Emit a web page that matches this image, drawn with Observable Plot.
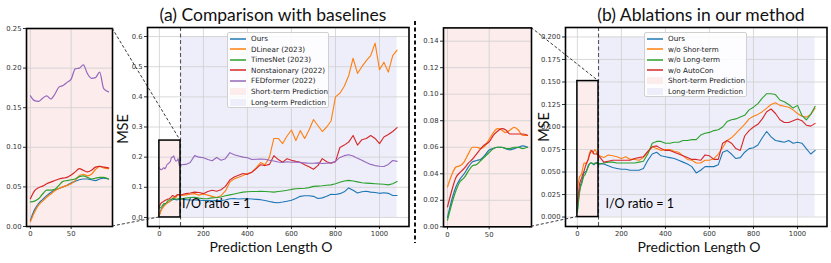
<!DOCTYPE html>
<html><head><meta charset="utf-8">
<script src="https://cdn.jsdelivr.net/npm/d3@7"></script>
<script src="https://cdn.jsdelivr.net/npm/@observablehq/plot@0.6"></script>
<style>
body{margin:0;background:#fff}
#wrap{position:relative;width:831px;height:263px;overflow:hidden;background:#fff}
#wrap svg{position:absolute;left:0;top:0}
</style>
</head><body><div id="wrap"></div>
<script>
// ---------------- DATA ----------------
const xShort = [0,5,10,15,20,25,30,35,40,45,50,55,60,65,70,75,80,85,90,96];
const xLong = [100,120,140,160,180,200,220,240,260,280,300,320,340,360,380,400,420,440,460,480,500,520,540,560,580,600,620,640,660,680,700,720,740,760,780,800,820,840,860,880,900,920,940,960,980,1000,1020,1040,1060,1080];

const namesA = ["Ours","DLinear (2023)","TimesNet (2023)","Nonstaionary (2022)","FEDformer (2022)"];
const namesB = ["Ours","w/o Shor-term","w/o Long-term","w/o AutoCon"];

// (a) short-term values
const aOursShort = [.008,.021,.029,.034,.039,.043,.046,.048,.050,.052,.055,.057,.059,.060,.060,.059,.058,.060,.061,.060];
const aDLinearShort = [.006,.018,.027,.032,.037,.041,.045,.048,.050,.052,.054,.058,.064,.066,.064,.066,.072,.076,.074,.073];
const aTimesNetShort = [.031,.032,.035,.041,.046,.046,.047,.052,.057,.058,.059,.060,.063,.064,.062,.060,.061,.062,.062,.060];
const aNonstatShort = [.035,.045,.049,.051,.054,.056,.058,.060,.061,.062,.065,.069,.073,.071,.069,.071,.075,.076,.075,.074];
const aFEDShort = [.165,.159,.158,.162,.165,.161,.167,.176,.178,.182,.186,.199,.200,.204,.193,.187,.188,.195,.174,.170];

// (a) long-term values
const aOursLong = [.061,.059,.058,.058,.057,.056,.057,.055,.056,.056,
 .058,.062,.063,.061,.062,.062,.061,.060,.059,.056,
 .053,.050,.049,.051,.054,.057,.063,.070,.072,.072,
 .070,.063,.065,.070,.077,.076,.079,.085,.098,.090,
 .081,.085,.087,.084,.083,.080,.082,.080,.073,.073];
const aDLinearLong = [.073,.075,.077,.079,.074,.078,.074,.070,.066,.072,
 .088,.117,.128,.133,.139,.146,.150,.165,.182,.175,
 .200,.262,.262,.245,.270,.290,.255,.288,.262,.290,
 .325,.305,.285,.300,.320,.400,.412,.435,.470,.528,
 .478,.500,.520,.537,.578,.490,.515,.482,.537,.555];
const aTimesNetLong = [.062,.064,.066,.067,.064,.062,.063,.065,.066,.068,
 .072,.075,.078,.081,.084,.085,.086,.086,.087,.086,
 .085,.084,.086,.088,.090,.093,.095,.096,.097,.099,
 .103,.104,.105,.107,.108,.112,.117,.121,.123,.121,
 .118,.115,.114,.113,.112,.111,.110,.108,.112,.119];
const aNonstatLong = [.075,.079,.081,.084,.083,.079,.086,.090,.087,.092,
 .103,.124,.134,.140,.146,.143,.150,.162,.175,.172,
 .176,.205,.192,.183,.195,.190,.186,.183,.175,.168,
 .160,.172,.195,.185,.180,.185,.232,.240,.250,.272,
 .240,.258,.262,.272,.262,.245,.267,.275,.285,.298];
const aFEDLong = [.175,.176,.182,.205,.200,.198,.192,.188,.199,.190,
 .195,.215,.208,.204,.200,.198,.192,.193,.194,.193,
 .190,.187,.184,.182,.185,.183,.184,.182,.181,.180,
 .180,.181,.179,.180,.181,.186,.199,.205,.208,.204,
 .196,.190,.182,.176,.172,.170,.169,.176,.189,.186];

// (b) short-term values
const bOursShort = [.007,.020,.030,.036,.040,.045,.049,.050,.051,.054,.058,.059,.060,.060,.059,.058,.059,.060,.061,.060];
const bShortShort = [.030,.039,.045,.046,.049,.055,.060,.060,.059,.061,.066,.071,.074,.073,.071,.073,.075,.073,.069,.069];
const bLongShort = [.005,.017,.027,.034,.037,.042,.046,.047,.050,.053,.056,.059,.060,.060,.059,.059,.060,.060,.059,.060];
const bAutoShort = [.015,.027,.037,.041,.044,.048,.051,.055,.059,.062,.064,.069,.072,.074,.073,.070,.070,.070,.070,.069];

// (b) long-term values
const bOursLong = [.059,.059,.057,.055,.054,.053,.053,.052,.052,.052,
 .054,.063,.070,.072,.068,.067,.066,.065,.063,.061,
 .059,.056,.049,.052,.056,.056,.056,.058,.072,.074,
 .070,.065,.066,.072,.076,.077,.080,.088,.095,.089,
 .085,.084,.083,.085,.082,.083,.082,.076,.070,.074];
const bShortLong = [.068,.066,.069,.068,.067,.065,.067,.064,.064,.063,
 .066,.072,.078,.076,.074,.075,.075,.073,.072,.068,
 .064,.063,.060,.060,.063,.063,.065,.070,.077,.085,
 .088,.093,.098,.103,.109,.112,.114,.117,.121,.125,
 .127,.124,.123,.122,.119,.115,.112,.111,.114,.121];
const bLongLong = [.059,.060,.061,.061,.060,.060,.060,.060,.060,.061,
 .062,.070,.082,.084,.084,.082,.082,.083,.083,.085,
 .085,.086,.086,.091,.093,.094,.096,.097,.100,.106,
 .108,.109,.111,.113,.119,.122,.126,.132,.137,.137,
 .136,.130,.128,.125,.121,.124,.113,.108,.114,.123];
const bAutoLong = [.067,.061,.062,.063,.063,.063,.063,.063,.065,.066,
 .067,.073,.078,.079,.076,.074,.074,.072,.070,.068,
 .066,.064,.064,.063,.069,.068,.064,.064,.082,.085,
 .082,.076,.074,.090,.096,.100,.103,.109,.117,.120,
 .115,.108,.105,.105,.107,.109,.107,.102,.101,.104];

// ticks
const xTicksMain = [0,200,400,600,800,1000];
const xTicksInset = [0,50];
const yTicksMainA = [0,0.1,0.2,0.3,0.4,0.5,0.6];
const yTicksMainB = [0,0.025,0.05,0.075,0.1,0.125,0.15,0.175,0.2];
const yTicksInsetA = [0,0.05,0.1,0.15,0.2,0.25];
const yTicksInsetB = [0,0.02,0.04,0.06,0.08,0.1,0.12,0.14];

// regions
const shortEnd = 96, longEnd = 1080;
const boxTopA = 0.255, longTopA = 0.6;
const boxTopB = 0.151, longTopB = 0.2;

// ---------------- STYLE ----------------
const W = 831, H = 263;
const colors = ["#1f77b4","#ff7f0e","#2ca02c","#d62728","#9467bd"];
const pink = "#fcecec", lav = "#eeeefa", gridC = "#cfcfcf";
const tickFont = "DejaVu Sans";
const labelFont = "Lato";

function rows(names, xs, arrs){
  const out = [];
  names.forEach((n,i)=>arrs[i].forEach((v,j)=>out.push({x:xs[j], y:v, s:n})));
  return out;
}
function rowsFull(names, shortArrs, longArrs){
  const out = [];
  names.forEach((n,i)=>{
    shortArrs[i].forEach((v,j)=>out.push({x:xShort[j], y:v, s:n}));
    longArrs[i].forEach((v,j)=>out.push({x:xLong[j], y:v, s:n}));
  });
  return out;
}

const wrap = document.getElementById("wrap");

function axes(xt, yt, yfmt){
  return [
    Plot.axisX(xt, {tickSize:3, tickPadding:2, fontSize:6.8, label:null, tickFormat:d3.format("d"), stroke:"#333", fill:"#333"}),
    Plot.axisY(yt, {tickSize:3, tickPadding:2, fontSize:6.8, label:null, tickFormat:d3.format(yfmt), stroke:"#333", fill:"#333"})
  ];
}

function inset(fr, yDomain, yTicks, yfmt, names, arrs, nColors){
  return Plot.plot({
    width: W, height: H,
    marginLeft: fr.l, marginRight: W - fr.r, marginTop: fr.t, marginBottom: H - fr.b,
    style: {background:"transparent", fontFamily: tickFont},
    x: {domain:[-4.8,100.8], label:null},
    y: {domain:yDomain, label:null},
    color: {domain:names, range:nColors},
    marks: [
      Plot.frame({fill:pink}),
      Plot.ruleX(xTicksInset, {stroke:gridC, strokeWidth:0.8}),
      Plot.ruleY(yTicks, {stroke:gridC, strokeWidth:0.8}),
      Plot.line(rows(names, xShort, arrs), {x:"x", y:"y", z:"s", stroke:"s", strokeWidth:1.2, curve:"monotone-x"}),
      ...axes(xTicksInset, yTicks, yfmt),
      Plot.frame({stroke:"black", strokeWidth:1.6})
    ]
  });
}

function main(fr, yDomain, yTicks, yfmt, boxTop, longTop, names, shortArrs, longArrs, nColors, ioPos){
  return Plot.plot({
    width: W, height: H,
    marginLeft: fr.l, marginRight: W - fr.r, marginTop: fr.t, marginBottom: H - fr.b,
    style: {background:"transparent", fontFamily: tickFont},
    x: {domain:[-54,1134], label:null},
    y: {domain:yDomain, label:null},
    color: {domain:names, range:nColors},
    marks: [
      Plot.rect([{x1:shortEnd, x2:longEnd, y1:0, y2:longTop}], {x1:"x1", x2:"x2", y1:"y1", y2:"y2", fill:lav}),
      Plot.rect([{x1:0, x2:shortEnd, y1:0, y2:boxTop}], {x1:"x1", x2:"x2", y1:"y1", y2:"y2", fill:pink}),
      Plot.ruleX(xTicksMain, {stroke:gridC, strokeWidth:0.8}),
      Plot.ruleY(yTicks, {stroke:gridC, strokeWidth:0.8}),
      Plot.ruleX([shortEnd], {stroke:"#555", strokeWidth:1.1, strokeDasharray:"4,2.5"}),
      Plot.line(rowsFull(names, shortArrs, longArrs), {x:"x", y:"y", z:"s", stroke:"s", strokeWidth:1.1}),
      Plot.rect([{x1:0, x2:shortEnd, y1:0, y2:boxTop}], {x1:"x1", x2:"x2", y1:"y1", y2:"y2", fill:"none", stroke:"black", strokeWidth:1.5}),
      Plot.text([{x:ioPos[0], y:ioPos[1], t:"I/O ratio = 1"}], {x:"x", y:"y", text:"t", textAnchor:"start", fontSize:12.5, fontFamily:labelFont, fill:"black"}),
      ...axes(xTicksMain, yTicks, yfmt),
      Plot.frame({stroke:"black", strokeWidth:1.6})
    ]
  });
}

const frInA = {l:26, r:112, t:28, b:226};
const frMainA = {l:147, r:408.5, t:27, b:226};
const frInB = {l:443, r:531, t:27.4, b:226.3};
const frMainB = {l:565, r:826.5, t:27, b:226};

const pInA = inset(frInA, [0,0.25], yTicksInsetA, ".2f", namesA,
  [aOursShort,aDLinearShort,aTimesNetShort,aNonstatShort,aFEDShort], colors);
const pMainA = main(frMainA, [-0.03,0.63], yTicksMainA, ".1f", boxTopA, longTopA, namesA,
  [aOursShort,aDLinearShort,aTimesNetShort,aNonstatShort,aFEDShort],
  [aOursLong,aDLinearLong,aTimesNetLong,aNonstatLong,aFEDLong], colors, [103,0.046]);
const pInB = inset(frInB, [0,0.15], yTicksInsetB, ".2f", namesB,
  [bOursShort,bShortShort,bLongShort,bAutoShort], colors.slice(0,4));
const pMainB = main(frMainB, [-0.0105,0.2105], yTicksMainB, ".3f", boxTopB, longTopB, namesB,
  [bOursShort,bShortShort,bLongShort,bAutoShort],
  [bOursLong,bShortLong,bLongLong,bAutoLong], colors.slice(0,4), [128,0.014]);

[pInA, pMainA, pInB, pMainB].forEach(p => wrap.appendChild(p));

// ---------------- LEGENDS ----------------
function addLegend(left, top, width, entries){
  const rowH = 10.6;
  const box = document.createElement("div");
  box.style.cssText = `position:absolute;left:${left}px;top:${top}px;width:${width}px;height:${entries.length*rowH+1.5}px;background:rgba(255,255,255,0.85);border:0.8px solid #d0d0d0;border-radius:2px;box-sizing:border-box;font-family:'DejaVu Sans';font-size:7.2px;color:#222;`;
  entries.forEach((e,i)=>{
    const r = document.createElement("div");
    r.style.cssText = `position:absolute;left:0;top:${0.3+i*rowH}px;height:${rowH}px;display:flex;align-items:center;white-space:nowrap;`;
    const sw = e.kind === "line"
      ? `<svg width="16" height="6" style="position:static;margin-left:2px"><line x1="0" x2="16" y1="3" y2="3" stroke="${e.color}" stroke-width="1.5"/></svg>`
      : `<svg width="16" height="7" style="position:static;margin-left:2px"><rect x="0" y="0" width="16" height="7" fill="${e.color}"/></svg>`;
    r.innerHTML = sw + `<span style="margin-left:5px">${e.label}</span>`;
    box.appendChild(r);
  });
  wrap.appendChild(box);
}
addLegend(227, 32, 102, [
  ...namesA.map((n,i)=>({label:n, color:colors[i], kind:"line"})),
  {label:"Short-term Prediction", color:pink, kind:"patch"},
  {label:"Long-term Prediction", color:lav, kind:"patch"}
]);
addLegend(644, 32, 103, [
  ...namesB.map((n,i)=>({label:n, color:colors[i], kind:"line"})),
  {label:"Short-term Prediction", color:pink, kind:"patch"},
  {label:"Long-term Prediction", color:lav, kind:"patch"}
]);

// ---------------- OVERLAY (titles, labels, connectors) ----------------
const ov = d3.create("svg").attr("width", W).attr("height", H);
const sxA = pMainA.scale("x"), syA = pMainA.scale("y");
const sxB = pMainB.scale("x"), syB = pMainB.scale("y");
const conns = [
  [frInA.r, frInA.t, sxA.apply(shortEnd), syA.apply(boxTopA)],
  [frInA.r, frInA.b, sxA.apply(0), syA.apply(0)],
  [frInB.r, frInB.t, sxB.apply(shortEnd), syB.apply(boxTopB)],
  [frInB.r, frInB.b, sxB.apply(0), syB.apply(0)]
];
conns.forEach(c => ov.append("line").attr("x1",c[0]).attr("y1",c[1]).attr("x2",c[2]).attr("y2",c[3])
  .attr("stroke","#222").attr("stroke-width",0.9).attr("stroke-dasharray","3,2"));
// separator
ov.append("line").attr("x1",415).attr("x2",415).attr("y1",21).attr("y2",243)
  .attr("stroke","#111").attr("stroke-width",2).attr("stroke-dasharray","4,2.5");

function txt(x,y,s,size,rot){
  const t = ov.append("text").attr("x",x).attr("y",y).attr("text-anchor","middle")
    .attr("dominant-baseline","central").attr("font-family",labelFont).attr("font-size",size).attr("fill","#111").text(s);
  if (rot) t.attr("transform",`rotate(-90 ${x} ${y})`);
}
txt(273, 14.5, "(a) Comparison with baselines", 17.5);
txt(701, 14.5, "(b) Ablations in our method", 17.5);
txt(271, 246.5, "Prediction Length O", 14);
txt(699, 246.5, "Prediction Length O", 14);
txt(122, 129, "MSE", 14.5, true);
txt(543, 127, "MSE", 14.5, true);
wrap.appendChild(ov.node());
</script></body></html>
